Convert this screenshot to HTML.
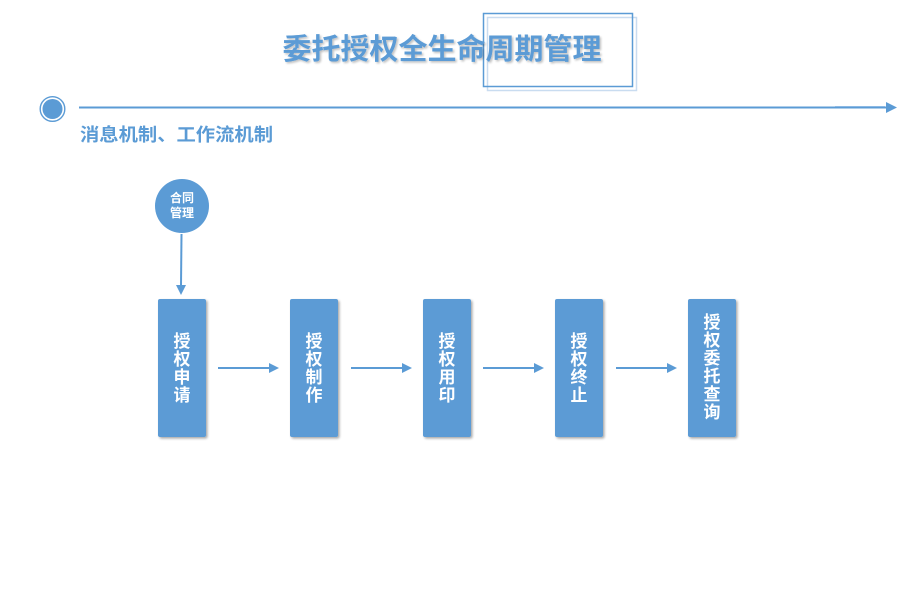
<!DOCTYPE html>
<html>
<head>
<meta charset="utf-8">
<style>
html,body{margin:0;padding:0;background:#fff;}
body{width:920px;height:600px;overflow:hidden;position:relative;}
svg{position:absolute;left:0;top:0;}
text{font-family:"Liberation Sans","Noto Sans CJK SC","WenQuanYi Zen Hei",sans-serif;font-weight:bold;}
</style>
</head>
<body>
<svg width="920" height="600" viewBox="0 0 920 600" xmlns="http://www.w3.org/2000/svg">
  <defs>
    <filter id="sh" x="-30%" y="-10%" width="160%" height="130%">
      <feGaussianBlur in="SourceAlpha" stdDeviation="1.2"/>
      <feOffset dx="1.5" dy="1.5" result="b"/>
      <feComponentTransfer><feFuncA type="linear" slope="0.35"/></feComponentTransfer>
      <feMerge><feMergeNode/><feMergeNode in="SourceGraphic"/></feMerge>
    </filter>
    <filter id="tsh" x="-5%" y="-20%" width="110%" height="150%">
      <feGaussianBlur in="SourceAlpha" stdDeviation="1"/>
      <feOffset dx="1.5" dy="1.5" result="b"/>
      <feComponentTransfer><feFuncA type="linear" slope="0.25"/></feComponentTransfer>
      <feMerge><feMergeNode/><feMergeNode in="SourceGraphic"/></feMerge>
    </filter>
  </defs>

  <!-- title frame -->
  <rect x="487.5" y="17.5" width="149" height="73" fill="none" stroke="#c9dcf0" stroke-width="1.5"/>
  <rect x="483.5" y="13.5" width="149" height="73" fill="none" stroke="#5b9bd5" stroke-width="1.5"/>
  <text x="442" y="59" font-size="29" fill="#5b9bd5" text-anchor="middle" textLength="319" lengthAdjust="spacingAndGlyphs" filter="url(#tsh)">委托授权全生命周期管理</text>

  <!-- timeline -->
  <circle cx="52.5" cy="109" r="12.3" fill="#fff" stroke="#5b9bd5" stroke-width="1.4"/>
  <circle cx="52.5" cy="109" r="10" fill="#5b9bd5"/>
  <line x1="79" y1="107.5" x2="887" y2="107.5" stroke="#5b9bd5" stroke-width="2"/>
  <line x1="835" y1="106.5" x2="885" y2="106.5" stroke="#8ab8e4" stroke-width="1"/>
  <polygon points="886,102 897,107.5 886,113" fill="#5b9bd5"/>
  <text x="80" y="141" font-size="18" fill="#5b9bd5" textLength="193" lengthAdjust="spacingAndGlyphs">消息机制、工作流机制</text>

  <!-- contract management circle -->
  <circle cx="182" cy="206" r="27" fill="#5b9bd5"/>
  <text x="182" y="202" font-size="12" fill="#fff" text-anchor="middle">合同</text>
  <text x="182" y="217" font-size="12" fill="#fff" text-anchor="middle">管理</text>
  <line x1="181.5" y1="234" x2="181" y2="286" stroke="#5b9bd5" stroke-width="2"/>
  <polygon points="176,285 186,285 181,295" fill="#5b9bd5"/>

  <!-- boxes -->
  <g filter="url(#sh)">
    <rect x="158" y="299" width="48" height="138" rx="2" fill="#5b9bd5"/>
    <rect x="290" y="299" width="48" height="138" rx="2" fill="#5b9bd5"/>
    <rect x="423" y="299" width="48" height="138" rx="2" fill="#5b9bd5"/>
    <rect x="555" y="299" width="48" height="138" rx="2" fill="#5b9bd5"/>
    <rect x="688" y="299" width="48" height="138" rx="2" fill="#5b9bd5"/>
  </g>

  <g font-size="17" fill="#fff" text-anchor="middle">
    <text x="182" y="347">授</text>
    <text x="182" y="365">权</text>
    <text x="182" y="383">申</text>
    <text x="182" y="401">请</text>

    <text x="314" y="347">授</text>
    <text x="314" y="365">权</text>
    <text x="314" y="383">制</text>
    <text x="314" y="401">作</text>

    <text x="447" y="347">授</text>
    <text x="447" y="365">权</text>
    <text x="447" y="383">用</text>
    <text x="447" y="401">印</text>

    <text x="579" y="347">授</text>
    <text x="579" y="365">权</text>
    <text x="579" y="383">终</text>
    <text x="579" y="401">止</text>

    <text x="712" y="328">授</text>
    <text x="712" y="346">权</text>
    <text x="712" y="364">委</text>
    <text x="712" y="382">托</text>
    <text x="712" y="400">查</text>
    <text x="712" y="418">询</text>
  </g>

  <!-- arrows -->
  <g stroke="#5b9bd5" stroke-width="2">
    <line x1="218" y1="368" x2="270" y2="368"/>
    <line x1="351" y1="368" x2="403" y2="368"/>
    <line x1="483" y1="368" x2="535" y2="368"/>
    <line x1="616" y1="368" x2="668" y2="368"/>
  </g>
  <g fill="#5b9bd5">
    <polygon points="269,363 279,368 269,373"/>
    <polygon points="402,363 412,368 402,373"/>
    <polygon points="534,363 544,368 534,373"/>
    <polygon points="667,363 677,368 667,373"/>
  </g>
</svg>
</body>
</html>
